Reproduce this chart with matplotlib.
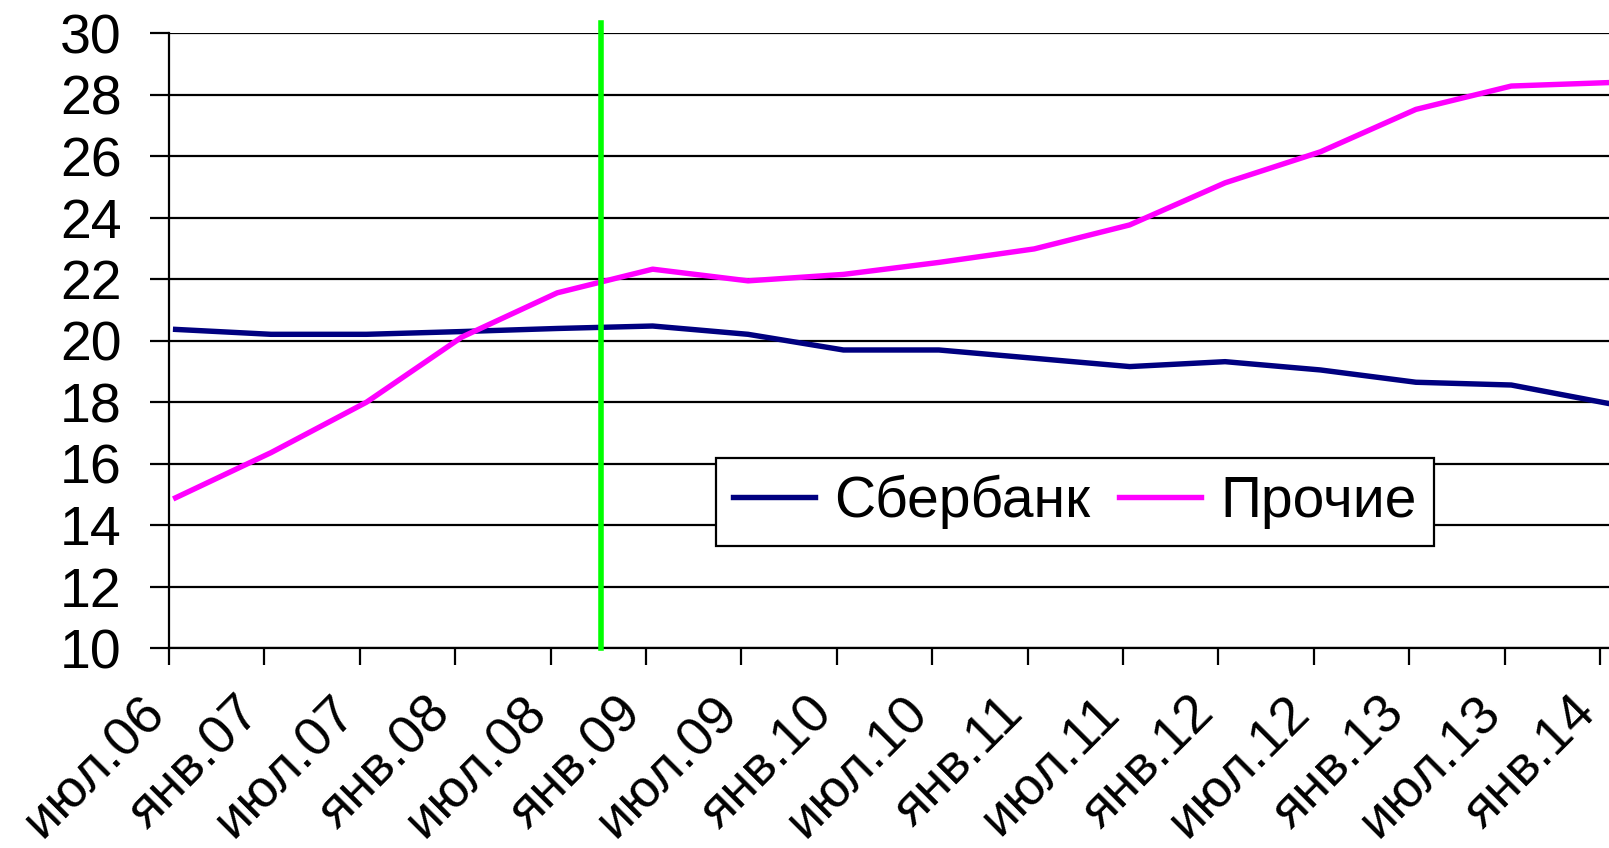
import matplotlib
matplotlib.use("Agg")
import matplotlib.pyplot as plt
from matplotlib.transforms import ScaledTranslation
import numpy as np

plt.rcParams['font.family'] = ['Liberation Sans', 'DejaVu Sans']

labels = ["июл.06", "янв.07", "июл.07", "янв.08", "июл.08", "янв.09", "июл.09", "янв.10",
          "июл.10", "янв.11", "июл.11", "янв.12", "июл.12", "янв.13", "июл.13", "янв.14"]
sberbank = [20.37, 20.21, 20.21, 20.30, 20.40, 20.48, 20.21, 19.70, 19.70, 19.43, 19.16, 19.32,
            19.05, 18.65, 18.56, 17.97]
prochie = [14.89, 16.36, 18.00, 20.12, 21.56, 22.33, 21.95, 22.16, 22.55, 22.99, 23.77, 25.14,
           26.15, 27.53, 28.29, 28.40]
crisis_pos = 4.53
series_names = ["Сбербанк", "Прочие"]

fig = plt.figure(figsize=(16.09, 8.48), dpi=100)
ax = fig.add_axes([0.105, 0.2358, 0.895, 0.7247])

x = np.arange(len(labels)) + 0.07
ax.plot(x, sberbank, color="#000080", lw=3.9, label=series_names[0])
ax.plot(x, prochie, color="#FF00FF", lw=3.9, label=series_names[1])

ax.plot([crisis_pos, crisis_pos], [10, 30.33], color="#00FF00", lw=4.0, clip_on=False, zorder=5)

ax.set_xlim(0, 15.094)
ax.set_ylim(10, 30)
ax.set_yticks(np.arange(10, 31, 2))
ax.set_xticks(np.arange(len(labels)))
ax.set_xticklabels(labels, rotation=45, ha='right', va='center', rotation_mode='anchor')
ax.grid(axis='y', color='black', lw=1.6)
ax.set_axisbelow(True)
for s in ['top', 'right']:
    ax.spines[s].set_visible(False)
ax.spines['left'].set_linewidth(1.6)
ax.spines['bottom'].set_linewidth(1.6)
ax.tick_params(axis='y', length=14, width=1.6, labelsize=40, pad=20)
ax.tick_params(axis='x', length=12, width=1.6, labelsize=39, pad=29)

off = ScaledTranslation(-12 / 100, 0, fig.dpi_scale_trans)
for lbl in ax.get_xticklabels():
    lbl.set_transform(lbl.get_transform() + off)

leg = ax.legend(loc='center', bbox_to_anchor=(0.629, 0.238), ncol=2, fontsize=41,
                frameon=True, fancybox=False, edgecolor='black', handlelength=1.45,
                columnspacing=0.5, handletextpad=0.33, borderpad=0.3, framealpha=1)
leg.get_frame().set_linewidth(1.6)

fig.savefig("out.png", dpi=100)
